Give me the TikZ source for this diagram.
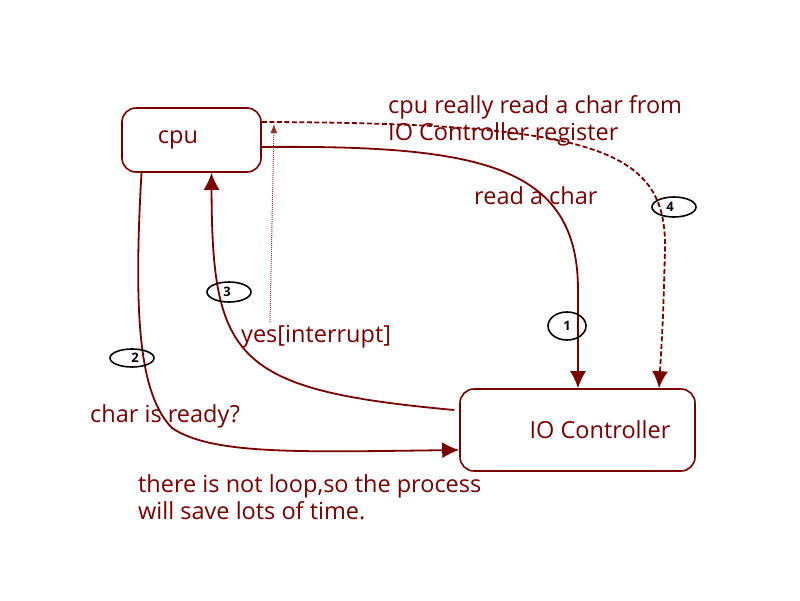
\documentclass[tikz,border=0pt]{standalone}
\usepackage{fontspec}
\setmainfont{Open Sans}
\usetikzlibrary{arrows.meta,shapes.geometric}
\definecolor{maroon}{RGB}{122,0,0}
\begin{document}
\begin{tikzpicture}[x=1pt, y=-1pt,
	box/.style={draw=maroon, line width=1.6pt, rounded corners=14pt, text=maroon, font=\fontsize{23.5}{26}\selectfont},
	lbl/.style={text=maroon, font=\fontsize{23.5}{27}\selectfont, align=left, anchor=north west, inner sep=0pt},
	num/.style={draw=black, ellipse, line width=1.6pt, inner sep=0pt, font=\bfseries\fontsize{13}{14}\selectfont},
	flow/.style={draw=maroon, line width=1.8pt, -{Latex[length=17pt,width=16pt]}}]
	\useasboundingbox (0,0) rectangle (800,600);
	\node[box, minimum width=139pt, minimum height=64pt] (cpu) at (191.5,140) {\hspace*{-27pt}cpu};
	\node[box, minimum width=235pt, minimum height=82pt] (io) at (577.5,430) {\hspace*{45pt}IO Controller};

	\node[lbl] (reg) at (388,95) {cpu really read a char from\\IO Controller register};
	\node[lbl] (read) at (474,186) {read a char};
	\node[lbl] (yes) at (241,325) {yes[interrupt]};
	\node[lbl] (ready) at (90,404) {char is ready?};
	\node[lbl] (note) at (138,474) {there is not loop,so the process\\will save lots of time.};

	\draw[flow] ([yshift=-7pt]cpu.east) .. controls (480,145) and (578,165) .. (578,290) -- (io.north -| 578,0);
	\draw[flow, dash pattern=on 5pt off 2.5pt] ([yshift=18pt]cpu.east) .. controls (600,123) and (667,150) .. (665,250) .. controls (663,320) .. (io.north -| 659,0);
	\draw[flow] ([xshift=-50pt]cpu.south) .. controls (133,320) and (140,395) .. (172,428) .. controls (212,455) and (300,452) .. ([yshift=-20pt]io.west);
	\draw[flow] ([shift={(-5pt,20pt)}]io.west) .. controls (235,390) and (212,360) .. ([xshift=20pt]cpu.south);
	\coordinate (irq) at (270,322);
	\draw[maroon!80, line width=1pt, densely dotted, -{Latex[length=9pt,width=7pt]}] (irq) -- (274,124);

	\node[num, minimum width=38pt, minimum height=28pt] (n1) at (567,326) {1};
	\node[num, minimum width=44pt, minimum height=18pt] (n2) at (132,358) {\hspace*{6pt}2};
	\node[num, minimum width=44pt, minimum height=20pt] (n3) at (229,292) {\hspace*{-4pt}3};
	\node[num, minimum width=44pt, minimum height=20pt] (n4) at (674,207) {\hspace*{-8pt}4};
\end{tikzpicture}
\end{document}
